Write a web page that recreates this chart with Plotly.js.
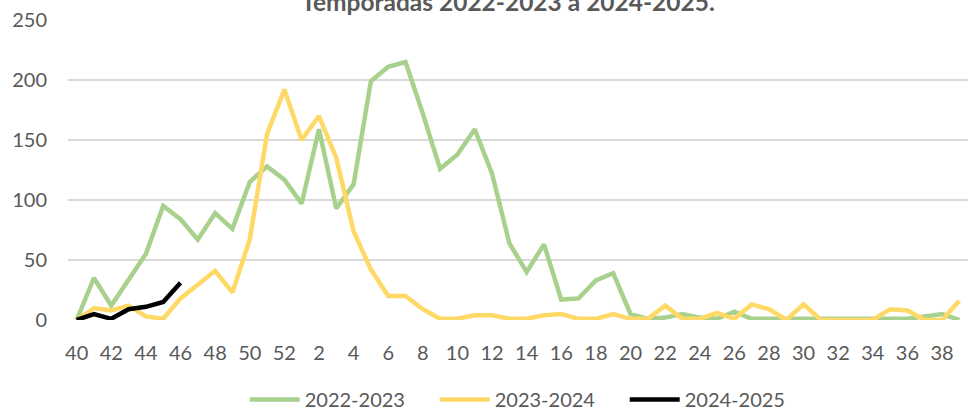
<!DOCTYPE html>
<html>
<head>
<meta charset="utf-8">
<script src="https://cdn.plot.ly/plotly-3.0.1.min.js"></script>
<style>
  html, body { margin: 0; padding: 0; background: #ffffff; }
  #chart { width: 975px; height: 411px; }
</style>
</head>
<body>
<div id="chart"></div>
<script>
// Epidemiological weeks (season runs week 40 to week 39)
const weeks = ["40","41","42","43","44","45","46","47","48","49","50","51","52",
  "1","2","3","4","5","6","7","8","9","10","11","12","13","14","15","16","17","18","19",
  "20","21","22","23","24","25","26","27","28","29","30","31","32","33","34","35","36","37","38","39"];

const season2022_2023 = [0,35,12,34,55,95,84,67,89,76,115,128,117,
  97,159,93,113,199,211,215,172,126,138,159,122,64,40,63,17,18,33,39,
  5,1,2,5,2,1,7,1,1,1,1,1,1,1,1,1,1,3,5,0];

const season2023_2024 = [0,10,8,12,3,1,18,30,41,23,67,155,192,
  150,170,135,74,42,20,20,9,1,1,4,4,1,1,4,5,1,1,5,
  1,1,12,1,1,6,1,13,9,0,13,0,0,0,0,9,8,0,0,16];

const season2024_2025 = [0,5,1,9,11,15,31];

const seriesNames = ["2022-2023","2023-2024","2024-2025"];
const seriesColors = ["#A9D18E","#FFD966","#000000"];
const titleText = "Temporadas 2022-2023 a 2024-2025.";

const allSeries = [season2022_2023, season2023_2024, season2024_2025];
const traces = allSeries.map((vals, k) => ({
  type: "scatter",
  mode: "lines",
  x: weeks.slice(0, vals.length),
  y: vals,
  name: seriesNames[k],
  line: { color: seriesColors[k], width: 4.5 },
  hoverinfo: "skip",
  cliponaxis: false
}));

const fontFam = "Lato, 'Open Sans', sans-serif";
const layout = {
  width: 975,
  height: 411,
  margin: { l: 68, r: 7, t: 20, b: 91, autoexpand: false },
  paper_bgcolor: "#ffffff",
  plot_bgcolor: "#ffffff",
  font: { family: fontFam, size: 20, color: "#595959" },
  title: {
    text: "<b>" + titleText + "</b>",
    font: { family: fontFam, size: 24.5, color: "#595959" },
    xref: "container",
    x: 0.521,
    xanchor: "center",
    yref: "container",
    y: 0.995,
    yanchor: "middle"
  },
  xaxis: {
    type: "category",
    categoryorder: "array",
    categoryarray: weeks,
    range: [-0.5, 51.5],
    dtick: 2,
    tick0: 0,
    showgrid: false,
    zeroline: false,
    showline: false,
    ticks: "",
    automargin: false,
    ticklabelstandoff: 19,
    tickfont: { family: fontFam, size: 20, color: "#595959" },
    fixedrange: true
  },
  yaxis: {
    range: [0, 250],
    dtick: 50,
    showgrid: true,
    gridcolor: "#D9D9D9",
    gridwidth: 1.5,
    zeroline: false,
    showline: false,
    ticks: "",
    automargin: false,
    ticklabelstandoff: 20,
    tickfont: { family: fontFam, size: 20, color: "#595959" },
    fixedrange: true
  },
  showlegend: true,
  legend: {
    orientation: "h",
    x: 0.513,
    xanchor: "center",
    y: -0.265,
    yanchor: "middle",
    itemwidth: 50,
    entrywidth: 125,
    entrywidthmode: "pixels",
    font: { family: fontFam, size: 20, color: "#595959" },
    bgcolor: "rgba(0,0,0,0)"
  },
  hovermode: false
};

Plotly.newPlot("chart", traces, layout, { staticPlot: true, displayModeBar: false });
</script>
</body>
</html>
